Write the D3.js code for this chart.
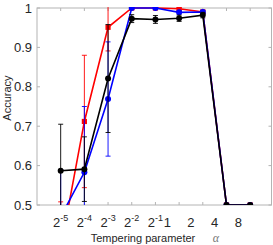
<!DOCTYPE html>
<html>
<head>
<meta charset="utf-8">
<script src="https://cdn.jsdelivr.net/npm/d3@7"></script>
<style>
  body { margin: 0; background: #fff; }
  svg { display: block; font-family: "Liberation Sans", Arial, sans-serif; }
</style>
</head>
<body>
<svg id="chart" width="273" height="245"></svg>
<script>
// x positions are tick indices 1..9 (alpha = 2^-5 ... 8)
var xIndex = [1, 2, 3, 4, 5, 6, 7, 8, 9];
var tickBase = ["2", "2", "2", "2", "2", "1", "2", "4", "8"];
var tickExp = ["-5", "-4", "-3", "-2", "-1", "", "", "", ""];
var tickLabelAt = [1, 2, 3, 4, 5, 5.5, 6.5, 7.5, 8.5];
var yTicks = [0.5, 0.6, 0.7, 0.8, 0.9, 1];

var redVals = [0.39, 0.712, 0.951, 1.0, 1.0, 0.998, 0.99, 0.5, 0.5];
var redErr = [0.118, 0.168, 0.06, 0.003, 0.003, 0.003, 0.004, 0, 0];
var blueVals = [0.47, 0.583, 0.769, 1.0, 1.0, 0.989, 0.99, 0.5, 0.5];
var blueErr = [0.12, 0.167, 0.145, 0.003, 0.003, 0.004, 0.004, 0, 0];
var blackVals = [0.587, 0.591, 0.821, 0.973, 0.971, 0.974, 0.982, 0.5, 0.5];
var blackErr = [0.118, 0.082, 0.137, 0.01, 0.01, 0.008, 0.007, 0, 0];

var cfg = {
  left: 37, right: 271.5, top: 8, bottom: 205,
  axisColor: "#b4b4b4",
  textColor: "#262626"
};

var svg = d3.select("#chart");

var x = d3.scaleLinear().domain([0, 9.9]).range([cfg.left, cfg.right]);
var y = d3.scaleLinear().domain([0.5, 1]).range([cfg.bottom, cfg.top]);

svg.append("defs").append("clipPath").attr("id", "plotClip")
  .append("rect")
  .attr("x", cfg.left).attr("y", cfg.top - 1)
  .attr("width", cfg.right - cfg.left).attr("height", cfg.bottom - cfg.top + 1);

// box
svg.append("rect")
  .attr("x", cfg.left).attr("y", cfg.top)
  .attr("width", cfg.right - cfg.left).attr("height", cfg.bottom - cfg.top)
  .attr("fill", "none").attr("stroke", cfg.axisColor).attr("stroke-width", 1);

// ticks (inward, on all four sides)
var tickLen = 3;
xIndex.forEach(function(d){
  svg.append("line").attr("x1", x(d)).attr("x2", x(d))
    .attr("y1", cfg.bottom).attr("y2", cfg.bottom - tickLen)
    .attr("stroke", cfg.axisColor);
  svg.append("line").attr("x1", x(d)).attr("x2", x(d))
    .attr("y1", cfg.top).attr("y2", cfg.top + tickLen)
    .attr("stroke", cfg.axisColor);
});
yTicks.forEach(function(d){
  svg.append("line").attr("x1", cfg.left).attr("x2", cfg.left + tickLen)
    .attr("y1", y(d)).attr("y2", y(d)).attr("stroke", cfg.axisColor);
  svg.append("line").attr("x1", cfg.right).attr("x2", cfg.right - tickLen)
    .attr("y1", y(d)).attr("y2", y(d)).attr("stroke", cfg.axisColor);
});

// y tick labels
svg.selectAll("text.ytick")
  .data(yTicks)
  .enter()
  .append("text")
  .attr("class", "ytick")
  .attr("x", cfg.left - 5)
  .attr("y", function(d){ return y(d) + 4.5; })
  .attr("text-anchor", "end")
  .attr("font-size", 13)
  .attr("fill", cfg.textColor)
  .text(function(d){ return d === 1 ? "1" : d.toFixed(1); });

// x tick labels with superscripts
xIndex.forEach(function(d, i){
  var t = svg.append("text")
    .attr("x", x(tickLabelAt[i]))
    .attr("y", 227)
    .attr("text-anchor", "middle")
    .attr("font-size", 13)
    .attr("fill", cfg.textColor);
  t.append("tspan").text(tickBase[i]);
  if(tickExp[i] !== ""){
    t.append("tspan").attr("font-size", 9).attr("dy", -6).text(tickExp[i]);
  }
});

// axis titles
svg.append("text")
  .attr("x", 143).attr("y", 242)
  .attr("text-anchor", "middle")
  .attr("font-size", 11)
  .attr("fill", cfg.textColor)
  .text("Tempering parameter");
svg.append("text")
  .attr("x", 216).attr("y", 242)
  .attr("text-anchor", "middle")
  .attr("font-size", 12)
  .attr("font-style", "italic")
  .attr("font-family", "'Liberation Serif', 'DejaVu Serif', serif")
  .attr("fill", "#777")
  .text("α");
svg.append("text")
  .attr("transform", "translate(11,98) rotate(-90)")
  .attr("text-anchor", "middle")
  .attr("font-size", 11)
  .attr("fill", cfg.textColor)
  .text("Accuracy");

var plot = svg.append("g").attr("clip-path", "url(#plotClip)");

function draw_series(vals, errs, color, marker){
  var pts = xIndex.map(function(d, i){ return {x: d, y: vals[i], e: errs[i]}; });
  var g = plot.append("g");
  // error bars
  pts.forEach(function(p){
    if(p.e <= 0) return;
    var cx = x(p.x);
    g.append("line").attr("x1", cx).attr("x2", cx)
      .attr("y1", y(p.y - p.e)).attr("y2", y(p.y + p.e))
      .attr("stroke", color).attr("stroke-width", 0.9);
    [p.y - p.e, p.y + p.e].forEach(function(v){
      g.append("line").attr("x1", cx - 2.5).attr("x2", cx + 2.5)
        .attr("y1", y(v)).attr("y2", y(v))
        .attr("stroke", color).attr("stroke-width", 0.9);
    });
  });
  var line = d3.line().x(function(p){ return x(p.x); }).y(function(p){ return y(p.y); });
  g.append("path").datum(pts).attr("d", line)
    .attr("fill", "none").attr("stroke", color).attr("stroke-width", 1.6);
  pts.forEach(function(p){
    if(marker === "square"){
      g.append("rect").attr("x", x(p.x) - 2.6).attr("y", y(p.y) - 2.6)
        .attr("width", 5.2).attr("height", 5.2).attr("fill", color);
    }else{
      g.append("circle").attr("cx", x(p.x)).attr("cy", y(p.y))
        .attr("r", 3).attr("fill", color);
    }
  });
}

draw_series(redVals, redErr, "#ff0000", "square");
draw_series(blueVals, blueErr, "#0000ff", "circle");
draw_series(blackVals, blackErr, "#000000", "circle");
</script>
</body>
</html>
